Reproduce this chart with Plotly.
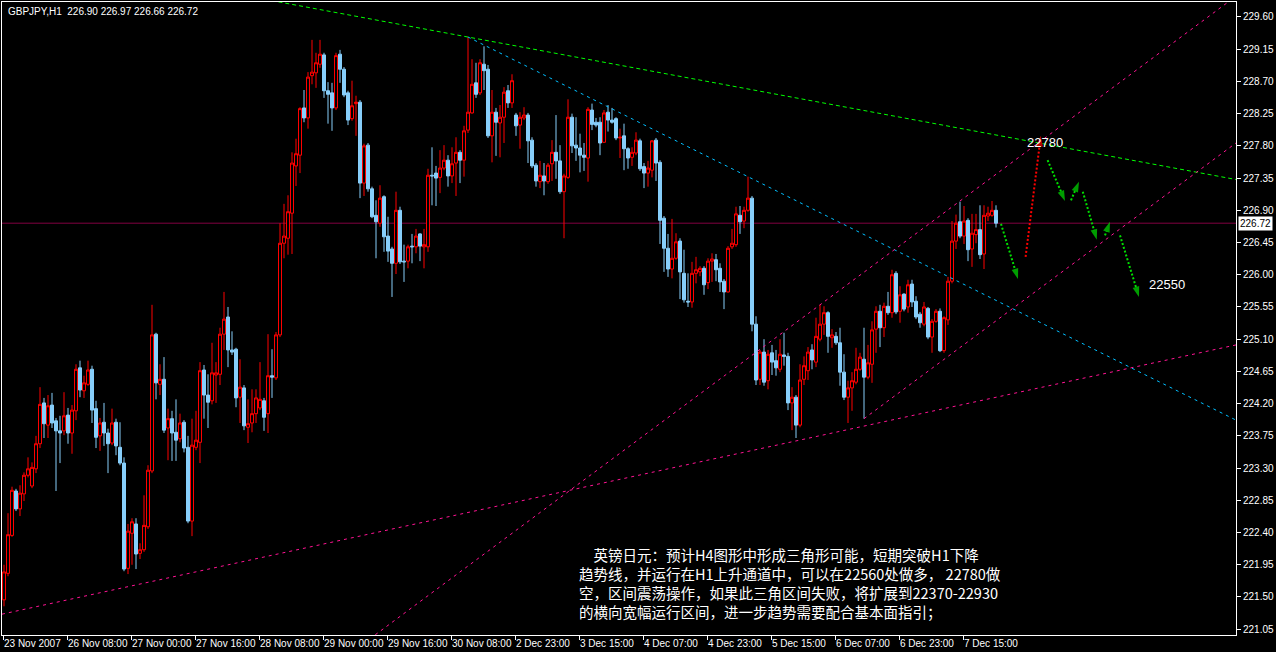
import plotly.graph_objects as go

# ---------------- data (GBPJPY, H1) ----------------
opens = [
    221.46, 221.83, 222.36, 222.98, 222.73, 222.94, 223.20, 223.05, 223.29, 223.64,
    224.21, 223.90, 224.18, 223.96, 223.82, 223.82, 224.04, 223.79, 224.10, 224.70,
    224.38, 224.47, 224.68, 224.13, 223.75, 223.94, 223.79, 223.65, 223.94, 223.59,
    223.37, 221.90, 222.39, 222.52, 222.11, 222.16, 222.48, 223.26, 225.17, 224.47,
    224.54, 223.86, 223.99, 223.80, 223.71, 223.94, 223.59, 222.56, 223.59, 223.66,
    224.67, 224.32, 224.24, 224.60, 224.61, 225.17, 225.41, 224.95, 224.96, 224.29,
    224.42, 223.87, 223.93, 224.06, 224.14, 224.24, 224.06, 224.59, 224.56, 225.16,
    226.44, 226.51, 226.86, 227.52, 227.67, 228.33, 228.19, 228.78, 228.82, 228.94,
    229.07, 228.57, 228.54, 228.33, 229.08, 228.87, 228.54, 228.18, 228.39, 228.41,
    227.28, 227.81, 227.20, 226.83, 226.72, 227.09, 226.54, 226.36, 226.16, 226.90,
    226.19, 226.19, 226.40, 226.39, 226.57, 226.39, 226.39, 227.39, 227.42, 227.36,
    227.49, 227.60, 227.38, 227.56, 227.71, 227.60, 228.02, 228.26, 228.68, 228.54,
    228.94, 228.87, 227.94, 228.27, 228.12, 228.20, 228.57, 228.40, 228.23, 228.09,
    228.19, 228.23, 227.88, 227.53, 227.30, 227.38, 227.30, 227.55, 227.71, 227.59,
    227.16, 227.36, 228.20, 227.81, 227.77, 227.67, 227.63, 228.30, 228.13, 228.13,
    227.85, 228.27, 228.16, 228.18, 227.91, 227.94, 227.76, 227.64, 227.70, 227.87,
    227.51, 227.42, 227.46, 227.88, 227.57, 226.79, 226.37, 226.08, 226.23, 226.47,
    226.02, 225.63, 225.62, 226.02, 226.04, 226.09, 225.89, 226.19, 226.21, 226.09,
    225.91, 225.76, 226.39, 226.42, 226.83, 226.75, 226.90, 227.07, 225.31, 224.54,
    224.92, 224.52, 224.91, 224.80, 224.68, 224.88, 224.86, 224.21, 224.29, 223.90,
    224.54, 224.66, 224.95, 224.78, 225.10, 225.31, 225.47, 225.12, 225.14, 225.05,
    224.64, 224.29, 224.42, 224.50, 224.68, 224.82, 224.57, 224.75, 225.24, 225.49,
    225.26, 225.56, 225.47, 226.02, 225.49, 225.73, 225.55, 225.87, 225.63, 225.45,
    225.31, 225.53, 225.13, 225.35, 225.49, 224.94, 225.37, 225.91, 226.47, 226.74,
    226.54, 226.76, 226.36, 226.56, 226.63, 226.29, 226.82, 226.83, 226.90]

highs = [
    221.95, 222.67, 223.04, 223.01, 223.06, 223.24, 223.45, 223.38, 223.75, 224.43,
    224.28, 224.32, 224.35, 224.00, 224.03, 224.36, 224.14, 224.18, 224.75, 224.80,
    224.59, 224.80, 224.73, 224.24, 224.00, 224.21, 223.85, 224.13, 223.99, 223.94,
    223.45, 222.52, 222.60, 222.60, 222.25, 222.92, 223.34, 225.58, 225.19, 224.75,
    224.85, 224.13, 224.10, 224.26, 224.06, 223.97, 223.75, 223.99, 224.10, 224.78,
    224.74, 224.61, 225.05, 224.78, 225.26, 225.76, 225.55, 225.21, 224.98, 224.82,
    224.46, 224.26, 224.40, 224.40, 224.78, 224.28, 225.17, 224.96, 225.20, 226.72,
    226.99, 227.11, 227.71, 227.90, 228.34, 228.58, 228.83, 229.28, 229.10, 229.28,
    229.10, 228.69, 228.68, 229.10, 229.14, 228.90, 228.57, 228.71, 228.50, 228.44,
    227.83, 227.84, 227.23, 227.04, 227.25, 227.11, 226.81, 226.39, 227.16, 226.95,
    226.42, 226.42, 226.57, 226.64, 226.58, 226.64, 227.48, 227.78, 227.52, 227.74,
    227.81, 227.67, 227.78, 227.92, 227.74, 228.08, 229.32, 229.01, 228.96, 229.01,
    229.19, 228.93, 228.58, 228.33, 228.37, 228.62, 228.65, 228.80, 228.26, 228.27,
    228.34, 228.26, 227.92, 227.56, 227.59, 227.56, 227.56, 227.88, 228.23, 227.81,
    227.41, 228.45, 228.25, 228.20, 227.97, 227.84, 228.34, 228.39, 228.19, 228.20,
    228.30, 228.37, 228.33, 228.20, 228.04, 228.11, 227.78, 227.78, 227.99, 227.90,
    227.56, 227.59, 227.88, 227.91, 227.60, 226.82, 226.57, 226.78, 226.58, 226.51,
    226.35, 226.02, 226.18, 226.25, 226.12, 226.12, 226.23, 226.30, 226.29, 226.16,
    225.94, 226.40, 226.64, 226.95, 226.96, 226.95, 227.37, 227.10, 225.42, 224.95,
    225.10, 224.95, 225.02, 224.95, 225.10, 225.19, 224.91, 224.43, 224.32, 224.75,
    224.86, 224.99, 225.03, 225.40, 225.58, 225.56, 225.49, 225.24, 225.20, 225.26,
    224.89, 224.52, 224.64, 224.98, 224.91, 225.26, 225.02, 225.35, 225.56, 225.58,
    225.61, 225.76, 226.07, 226.05, 225.84, 225.74, 225.93, 225.93, 225.70, 225.48,
    225.62, 225.55, 225.38, 225.52, 225.53, 225.42, 225.97, 226.75, 226.84, 227.02,
    226.96, 226.79, 226.85, 226.85, 226.97, 226.97, 226.95, 227.03, 226.97]

lows = [
    221.37, 221.79, 222.34, 222.70, 222.63, 222.84, 223.17, 223.02, 223.23, 223.58,
    223.72, 223.72, 223.86, 222.98, 223.37, 223.76, 223.64, 223.50, 223.97, 224.29,
    224.28, 224.45, 223.93, 223.58, 223.54, 223.61, 223.23, 223.62, 223.48, 223.34,
    221.86, 221.82, 221.95, 221.89, 222.03, 222.13, 222.45, 223.23, 224.26, 224.32,
    223.79, 223.41, 223.40, 223.40, 223.66, 223.52, 222.53, 222.35, 223.55, 223.37,
    223.99, 223.86, 224.19, 224.21, 224.46, 224.95, 224.71, 224.88, 224.15, 223.93,
    223.83, 223.65, 223.80, 223.93, 224.11, 223.82, 223.79, 224.28, 224.53, 225.13,
    226.23, 226.28, 226.29, 227.24, 227.42, 228.13, 228.04, 228.66, 228.61, 228.89,
    228.47, 228.11, 228.01, 228.30, 228.68, 228.48, 228.09, 228.15, 227.94, 227.07,
    227.10, 227.16, 226.79, 226.23, 226.67, 226.32, 226.18, 225.69, 226.01, 226.15,
    225.90, 226.09, 226.16, 226.30, 226.19, 226.09, 226.32, 226.97, 226.96, 227.14,
    227.46, 227.23, 227.28, 227.10, 227.28, 227.37, 227.98, 228.25, 228.47, 228.51,
    228.58, 227.91, 227.57, 227.66, 227.64, 227.84, 228.33, 228.33, 227.94, 227.76,
    228.16, 227.56, 227.49, 227.23, 227.21, 227.11, 227.27, 227.31, 227.34, 227.13,
    226.51, 227.34, 227.70, 227.59, 227.43, 227.45, 227.30, 228.02, 228.06, 227.67,
    227.84, 228.00, 228.11, 227.88, 227.63, 227.46, 227.48, 227.52, 227.67, 227.45,
    227.21, 227.23, 227.36, 227.31, 226.43, 226.04, 225.97, 225.95, 226.21, 225.66,
    225.61, 225.55, 225.54, 225.88, 225.98, 225.72, 225.80, 225.90, 225.91, 225.76,
    225.52, 225.75, 226.36, 226.39, 226.57, 226.65, 226.88, 225.21, 224.46, 224.46,
    224.45, 224.40, 224.60, 224.59, 224.64, 224.73, 224.11, 223.83, 223.72, 223.87,
    224.46, 224.53, 224.68, 224.71, 225.07, 225.16, 224.91, 224.98, 225.02, 224.45,
    224.25, 223.93, 224.10, 224.47, 224.66, 223.99, 224.54, 224.49, 224.91, 224.99,
    225.13, 225.44, 225.40, 225.45, 225.33, 225.49, 225.47, 225.55, 225.38, 225.26,
    225.28, 225.10, 224.91, 225.33, 224.92, 224.91, 225.30, 225.88, 226.36, 226.51,
    226.43, 226.19, 226.11, 226.44, 226.22, 226.08, 226.75, 226.81, 226.66]

closes = [
    221.85, 222.37, 222.99, 222.73, 222.95, 223.20, 223.29, 223.31, 223.64, 224.19,
    223.92, 224.17, 223.93, 223.82, 223.79, 224.03, 223.79, 224.11, 224.68, 224.39,
    224.49, 224.67, 224.11, 223.73, 223.93, 223.79, 223.64, 223.93, 223.61, 223.37,
    221.89, 222.42, 222.55, 222.10, 222.16, 222.50, 223.27, 225.16, 224.49, 224.54,
    223.83, 223.99, 223.79, 223.69, 223.93, 223.58, 222.56, 223.62, 223.69, 224.66,
    224.32, 224.22, 224.63, 224.63, 225.17, 225.38, 224.95, 224.92, 224.28, 224.43,
    223.89, 223.92, 224.06, 224.28, 224.26, 224.01, 224.59, 224.57, 225.16, 226.44,
    226.54, 226.88, 227.56, 227.69, 228.32, 228.19, 228.76, 228.83, 228.96, 229.08,
    228.57, 228.52, 228.33, 229.06, 228.87, 228.51, 228.16, 228.36, 228.41, 227.28,
    227.80, 227.20, 226.81, 226.74, 227.07, 226.53, 226.33, 226.16, 226.90, 226.18,
    226.18, 226.39, 226.39, 226.54, 226.40, 226.42, 227.39, 227.38, 227.35, 227.49,
    227.60, 227.38, 227.55, 227.71, 227.60, 228.01, 228.27, 228.66, 228.52, 228.96,
    228.85, 227.94, 228.27, 228.13, 228.20, 228.55, 228.40, 228.71, 228.08, 228.20,
    228.23, 227.87, 227.52, 227.31, 227.39, 227.31, 227.53, 227.71, 227.59, 227.16,
    227.38, 228.20, 227.80, 227.77, 227.67, 227.64, 228.31, 228.10, 228.09, 227.84,
    228.26, 228.16, 228.13, 227.91, 227.92, 227.76, 227.63, 227.71, 227.88, 227.48,
    227.42, 227.49, 227.87, 227.56, 226.76, 226.37, 226.08, 226.23, 226.46, 226.04,
    225.65, 225.62, 226.02, 226.07, 226.09, 225.86, 226.19, 226.22, 226.07, 225.90,
    225.76, 226.37, 226.44, 226.85, 226.74, 226.90, 227.07, 225.31, 224.53, 224.92,
    224.50, 224.89, 224.78, 224.70, 224.89, 224.86, 224.21, 224.29, 223.90, 224.53,
    224.73, 224.92, 224.81, 225.14, 225.31, 225.47, 225.14, 225.16, 225.05, 224.64,
    224.29, 224.42, 224.52, 224.68, 224.85, 224.57, 224.77, 225.23, 225.49, 225.26,
    225.56, 225.47, 226.00, 225.48, 225.72, 225.52, 225.86, 225.62, 225.41, 225.33,
    225.55, 225.13, 225.35, 225.49, 224.94, 225.40, 225.91, 226.47, 226.72, 226.54,
    226.75, 226.35, 226.58, 226.63, 226.28, 226.83, 226.86, 226.90, 226.72]

bar_index = list(range(len(opens)))

x_tick_bars = [0, 16, 32, 48, 64, 80, 96, 112, 128, 144, 160, 176, 192, 208, 224, 240]
x_tick_labels = ["23 Nov 2007", "26 Nov 08:00", "27 Nov 00:00", "27 Nov 16:00",
                 "28 Nov 08:00", "29 Nov 00:00", "29 Nov 16:00", "30 Nov 08:00",
                 "2 Dec 23:00", "3 Dec 15:00", "4 Dec 07:00", "4 Dec 23:00",
                 "5 Dec 15:00", "6 Dec 07:00", "6 Dec 23:00", "7 Dec 15:00"]

y_tick_values = [221.05, 221.50, 221.95, 222.40, 222.85, 223.30, 223.75, 224.20,
                 224.65, 225.10, 225.55, 226.00, 226.45, 226.90, 227.35, 227.80,
                 228.25, 228.70, 229.15, 229.60]
y_tick_labels = ["%.2f" % v for v in y_tick_values]

last_price = 226.72
title_text = "GBPJPY,H1\u00a0\u00a0226.90 226.97 226.66 226.72"

# trend lines (bar index, price)
green_line_x = [60, 308]
green_line_y = [229.90, 227.33]
blue_line_x = [116, 308]
blue_line_y = [229.32, 223.97]
pink_long_x = [-0.5, 308]
pink_long_y = [221.26, 225.02]
pink_steep_x = [90, 308]
pink_steep_y = [220.855, 229.89]
pink_channel_x = [215, 308]
pink_channel_y = [223.99, 227.84]

# forecast arrows (bar index, price): start -> tip
red_arrow = [(255.4, 226.25), (259.2, 227.94)]
green_arrows = [
    [(249.25, 226.71), (253.5, 225.94)],
    [(260.9, 227.60), (265.25, 227.03)],
    [(266.75, 227.04), (268.75, 227.30)],
    [(269.7, 227.16), (273.2, 226.49)],
    [(275.25, 226.55), (276.5, 226.74)],
    [(279.0, 226.55), (283.75, 225.69)],
]
target_labels = [("22780", 260.25, 227.84), ("22550", 290.75, 225.86)]

comment_lines = [
    "\u3000英镑日元：预计H4图形中形成三角形可能，短期突破H1下降",
    "趋势线，并运行在H1上升通道中，可以在22560处做多， 22780做",
    "空，区间震荡操作，如果此三角区间失败，将扩展到22370-22930",
    "的横向宽幅运行区间，进一步趋势需要配合基本面指引；",
]

# ---------------- figure ----------------
W, H = 1276, 652
ML, MR, MT, MB = 2, 40, 2, 17
plot_w = W - ML - MR
plot_h = H - MT - MB


def px_to_paper_x(px):
    return (px - ML) / plot_w


def px_to_paper_y(py):
    return (H - MB - py) / plot_h


fig = go.Figure()

fig.add_trace(go.Candlestick(
    x=bar_index, open=opens, high=highs, low=lows, close=closes,
    increasing=dict(line=dict(color="#ff0000", width=1), fillcolor="#000000"),
    decreasing=dict(line=dict(color="#87cefa", width=1), fillcolor="#87cefa"),
    whiskerwidth=0, hoverinfo="skip", showlegend=False,
))

for lx, ly, col, dash in [
    (green_line_x, green_line_y, "#00ff00", "4px,3px"),
    (blue_line_x, blue_line_y, "#00bfff", "3px,4px"),
    (pink_long_x, pink_long_y, "#ff1493", "3px,4px"),
    (pink_steep_x, pink_steep_y, "#ff1493", "3px,4px"),
    (pink_channel_x, pink_channel_y, "#ff1493", "3px,4px"),
]:
    fig.add_trace(go.Scatter(x=lx, y=ly, mode="lines",
                             line=dict(color=col, width=1, dash=dash),
                             hoverinfo="skip", showlegend=False))


def add_arrow(seg, color):
    (x0, y0), (x1, y1) = seg
    fig.add_trace(go.Scatter(
        x=[x0, x1], y=[y0, y1], mode="lines+markers",
        line=dict(color=color, width=2, dash="2px,2px"),
        marker=dict(symbol=["circle", "arrow"], size=[0, 11], color=color,
                    angleref="previous", line=dict(width=0)),
        hoverinfo="skip", showlegend=False))


add_arrow(red_arrow, "#ff0000")
for seg in green_arrows:
    add_arrow(seg, "#00e000")

annotations = []
for txt, bx, by in target_labels:
    annotations.append(dict(x=bx, y=by, xref="x", yref="y", text=txt, showarrow=False,
                            font=dict(family="Liberation Sans", size=13, color="#ffffff")))

annotations.append(dict(x=px_to_paper_x(6), y=px_to_paper_y(11), xref="paper", yref="paper",
                        xanchor="left", yanchor="middle", text=title_text, showarrow=False,
                        font=dict(family="Liberation Sans", size=10, color="#ffffff")))

# time-axis labels, left-aligned at their tick (MetaTrader style)
for b, lab in zip(x_tick_bars, x_tick_labels):
    annotations.append(dict(x=b - 0.25, y=px_to_paper_y(643), xref="x", yref="paper",
                            xanchor="left", yanchor="middle", text=lab, showarrow=False,
                            borderpad=0,
                            font=dict(family="Liberation Sans", size=10, color="#ffffff")))

# comment block (one multi-line text)
annotations.append(dict(x=px_to_paper_x(578), y=px_to_paper_y(583), xref="paper", yref="paper",
                        xanchor="left", yanchor="middle", align="left",
                        text="<br>".join(comment_lines), showarrow=False, borderpad=0,
                        font=dict(family="Noto Sans CJK SC", size=14.5, color="#ffffff")))

annotations.append(dict(x=1, y=last_price, xref="paper", yref="y", xanchor="left",
                        yanchor="middle", xshift=2, text="%.2f" % last_price, showarrow=False,
                        bgcolor="#ffffff", borderpad=1,
                        font=dict(family="Liberation Sans", size=10, color="#000000")))

fig.update_layout(
    width=W, height=H,
    margin=dict(l=ML, r=MR, t=MT, b=MB, pad=0),
    paper_bgcolor="#000000", plot_bgcolor="#000000",
    showlegend=False,
    boxgap=0.25, boxgroupgap=0,
    annotations=annotations,
    shapes=[dict(type="line", xref="paper", x0=0, x1=1, yref="y", y0=last_price, y1=last_price,
                 line=dict(color="#800040", width=1), layer="below")],
    xaxis=dict(range=[-0.5, 308], showgrid=False, zeroline=False,
               showline=True, linecolor="#ffffff", linewidth=1, mirror=True,
               ticks="outside", ticklen=4, tickcolor="#ffffff", tickwidth=1,
               tickvals=[b - 0.25 for b in x_tick_bars], showticklabels=False,
               rangeslider=dict(visible=False), automargin=False),
    yaxis=dict(range=[220.969, 229.809], side="right", showgrid=False, zeroline=False,
               showline=True, linecolor="#ffffff", linewidth=1, mirror=True,
               ticks="outside", ticklen=4, tickcolor="#ffffff", tickwidth=1,
               tickvals=y_tick_values, ticktext=y_tick_labels,
               tickfont=dict(family="Liberation Sans", size=10, color="#ffffff"),
               automargin=False),
)

fig.write_html("out.html",
               config={"displayModeBar": False},
               post_script="document.body.style.margin='0';"
                           "document.body.style.padding='0';"
                           "document.body.style.overflow='hidden';"
                           "document.body.style.background='#000000';")
